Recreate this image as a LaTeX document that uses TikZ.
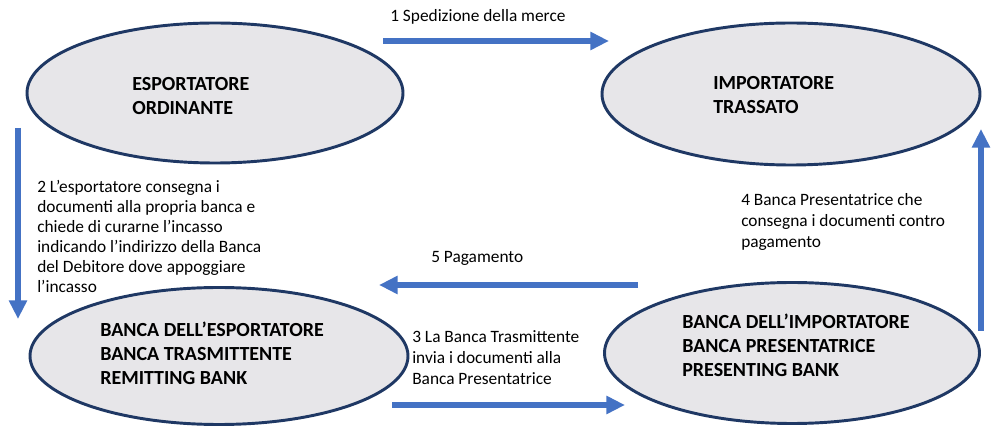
\documentclass[tikz,border=0pt]{standalone}
\usepackage{fontspec}
\setmainfont{Carlito}
\usetikzlibrary{shapes.geometric,arrows.meta}
\definecolor{arrowblue}{HTML}{4472C4}
\definecolor{ellfill}{HTML}{E7E6E9}
\definecolor{elldraw}{HTML}{1F3864}
\tikzset{
  party/.style={ellipse, draw=elldraw, fill=ellfill, line width=2.2pt, inner sep=0pt},
  ptext/.style={anchor=base west, align=left, inner sep=0pt, font=\fontsize{15}{18}\selectfont\bfseries},
  ltext/.style={anchor=base west, align=left, inner sep=0pt, font=\fontsize{13}{15.8}\selectfont},
  flow/.style={draw=arrowblue, line width=4.5pt, -{Triangle[length=14pt,width=13pt]}},
}
\begin{document}
\begin{tikzpicture}[x=0.75pt,y=-0.75pt]
\useasboundingbox (0,0) rectangle (1000,427);
% ellipses
\node[party, minimum width=282pt, minimum height=105pt] (e1) at (215,93) {};
\node[party, minimum width=283.5pt, minimum height=106.5pt] (e2) at (791,94) {};
\node[party, minimum width=283.5pt, minimum height=102.75pt] (e3) at (219,356) {};
\node[party, minimum width=281.25pt, minimum height=105.75pt] (e4) at (792,353) {};
% texts in ellipses (anchor = baseline of last line)
\node[ptext] (t1) at (132,115) {ESPORTATORE\\ORDINANTE};
\node[ptext] (t2) at (713,114) {IMPORTATORE\\TRASSATO};
\node[ptext] (t3) at (100,385) {BANCA DELL’ESPORTATORE\\BANCA TRASMITTENTE\\REMITTING BANK};
\node[ptext] (t4) at (682,377) {BANCA DELL’IMPORTATORE\\BANCA PRESENTATRICE\\PRESENTING BANK};
% arrow endpoints
\coordinate (a1s) at (383,41); \coordinate (a1e) at (609,41);
\coordinate (a2s) at (18,128); \coordinate (a2e) at (18,319);
\coordinate (a3s) at (392,405); \coordinate (a3e) at (625,405);
\coordinate (a4s) at (981,331); \coordinate (a4e) at (981,129);
\coordinate (a5s) at (638,285); \coordinate (a5e) at (379,285);
\draw[flow] (a1s) -- (a1e);
\draw[flow] (a2s) -- (a2e);
\draw[flow] (a3s) -- (a3e);
\draw[flow] (a4s) -- (a4e);
\draw[flow] (a5s) -- (a5e);
% labels (anchor = baseline of last line)
\node[ltext] (l1) at (390,22) {1 Spedizione della merce};
\node[ltext, font=\fontsize{13}{15}\selectfont] (l2) at (37,293) {2 L’esportatore consegna i\\documenti alla propria banca e\\chiede di curarne l’incasso\\indicando l’indirizzo della Banca\\del Debitore dove appoggiare\\l’incasso};
\node[ltext] (l3) at (412,385) {3 La Banca Trasmittente\\invia i documenti alla\\Banca Presentatrice};
\node[ltext] (l4) at (741,248) {4 Banca Presentatrice che\\consegna i documenti contro\\pagamento};
\node[ltext] (l5) at (431,263) {5 Pagamento};
\end{tikzpicture}
\end{document}
